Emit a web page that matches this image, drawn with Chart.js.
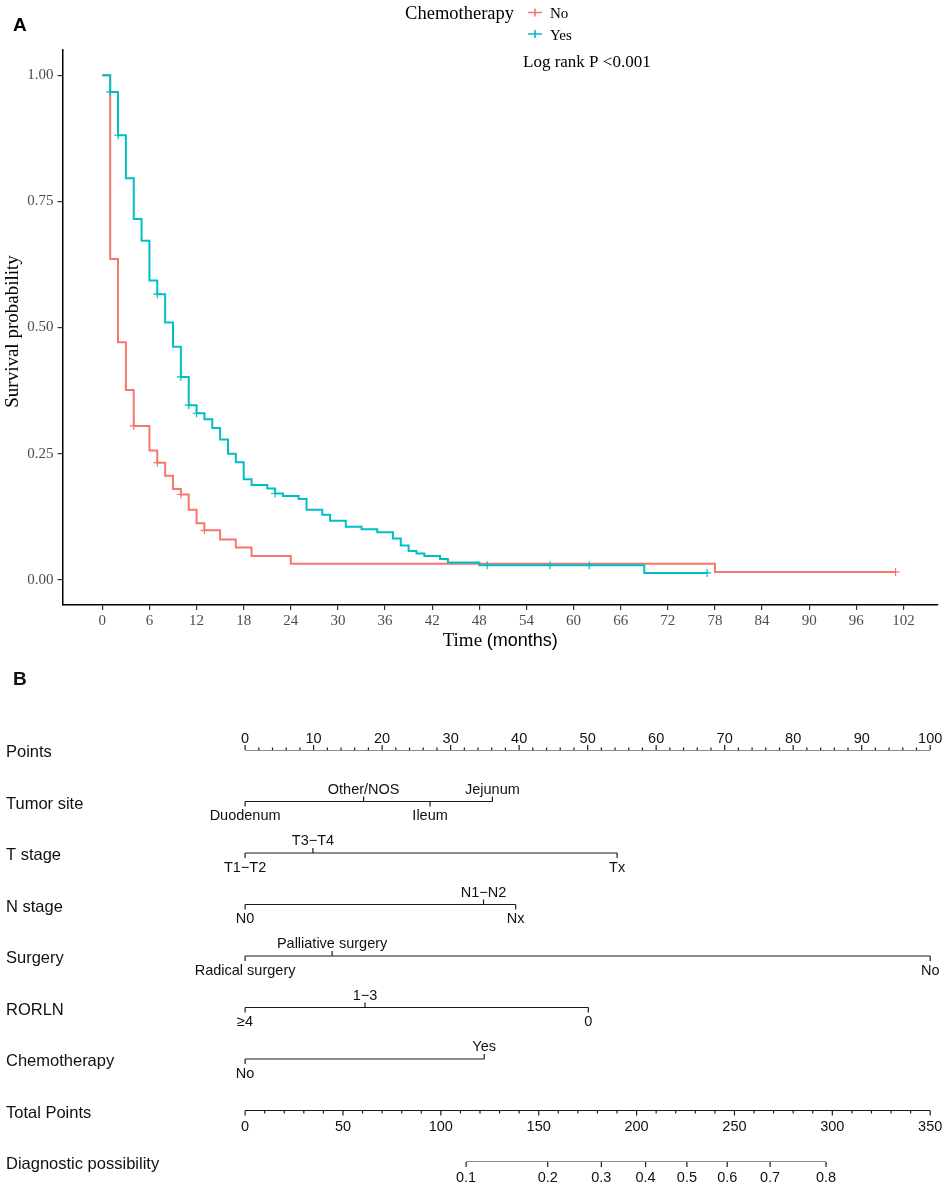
<!DOCTYPE html>
<html>
<head>
<meta charset="utf-8">
<title>Chemotherapy survival and nomogram</title>
<script src="https://cdn.jsdelivr.net/npm/chart.js@4.4.1/dist/chart.umd.min.js"></script>
<style>
    body { margin: 0; background: #fff; }
    #page { position: relative; width: 948px; height: 1183px; overflow: hidden; }
    canvas { position: absolute; left: 0; }
    #km { top: 0; }
    #nomo { top: 660px; }
</style>
</head>
<body>
<div id="page">
    <canvas id="km" width="948" height="660"></canvas>
    <canvas id="nomo" width="948" height="523"></canvas>
</div>
<script>
// ---- Panel A: Kaplan-Meier curves (months, survival probability) ----
const noTime = [0, 1, 2, 3, 4, 6, 7, 8, 9, 10, 11, 12, 13, 15, 17, 19, 24, 78, 101];
const noSurv = [1, 0.636, 0.471, 0.376, 0.305, 0.256, 0.232, 0.206, 0.180, 0.169, 0.139, 0.112, 0.098, 0.080, 0.064, 0.047, 0.032, 0.0155, 0.0155];
const yesTime = [0, 1, 2, 3, 4, 5, 6, 7, 8, 9, 10, 11, 12, 13, 14, 15, 16, 17, 18, 19, 21, 22, 23, 25, 26, 28, 29, 31, 33, 35, 37, 38, 39, 40, 41, 43, 44, 48, 69, 77];
const yesSurv = [1, 0.967, 0.881, 0.796, 0.715, 0.672, 0.593, 0.566, 0.510, 0.462, 0.402, 0.346, 0.330, 0.318, 0.301, 0.278, 0.250, 0.233, 0.199, 0.188, 0.181, 0.171, 0.166, 0.160, 0.139, 0.129, 0.117, 0.105, 0.100, 0.094, 0.082, 0.068, 0.057, 0.052, 0.047, 0.041, 0.034, 0.029, 0.0135, 0.0135];
const noCensor = [4, 7, 10, 13, 101];
const yesCensor = [1, 2, 7, 10, 11, 12, 22, 49, 57, 62, 77];
const timeTicks = [0, 6, 12, 18, 24, 30, 36, 42, 48, 54, 60, 66, 72, 78, 84, 90, 96, 102];
const survTicks = [0, 0.25, 0.5, 0.75, 1];

// ---- Panel B: nomogram (points for each level) ----
const rowNames = ['Points', 'Tumor site', 'T stage', 'N stage', 'Surgery', 'RORLN', 'Chemotherapy', 'Total Points', 'Diagnostic possibility'];
const tumorLevels = ['Duodenum', 'Other/NOS', 'Ileum', 'Jejunum'];
const tumorPoints = [0, 17.3, 27.0, 36.1];
const tStageLevels = ['T1\u2212T2', 'T3\u2212T4', 'Tx'];
const tStagePoints = [0, 9.9, 54.3];
const nStageLevels = ['N0', 'N1\u2212N2', 'Nx'];
const nStagePoints = [0, 34.8, 39.5];
const surgeryLevels = ['Radical surgery', 'Palliative surgery', 'No'];
const surgeryPoints = [0, 12.7, 100];
const rorlnLevels = ['\u22654', '1\u22123', '0'];
const rorlnPoints = [0, 17.5, 50.1];
const chemoLevels = ['No', 'Yes'];
const chemoPoints = [0, 34.9];
const pointTicks = [0, 10, 20, 30, 40, 50, 60, 70, 80, 90, 100];
const totalTicks = [0, 50, 100, 150, 200, 250, 300, 350];
const probLabels = ['0.1', '0.2', '0.3', '0.4', '0.5', '0.6', '0.7', '0.8'];
const probTotals = [112.9, 154.6, 182.0, 204.6, 225.7, 246.3, 268.2, 296.8];
const totalMax = 350;

const RED = '#F8766D';
const TEAL = '#00BFC4';
const SERIF = '"Liberation Serif", "Times New Roman", serif';
const SANS = '"Liberation Sans", Arial, sans-serif';

// Survival at time t from a step curve
function survAt(times, surv, t) {
    let s = surv[0];
    for (let i = 0; i < times.length; i++) {
        if (times[i] <= t) s = surv[i];
    }
    return s;
}

function toXY(xs, ys) {
    return xs.map((x, i) => ({ x: x, y: ys[i] }));
}

// Legend "+" key
function drawKey(ctx, x, y, color) {
    ctx.save();
    ctx.strokeStyle = color;
    ctx.lineWidth = 1.6;
    ctx.beginPath();
    ctx.moveTo(x - 7, y);
    ctx.lineTo(x + 7, y);
    ctx.moveTo(x, y - 4);
    ctx.lineTo(x, y + 4);
    ctx.stroke();
    ctx.restore();
}

const kmDecor = {
    id: 'kmDecor',
    afterDraw(chart) {
        const ctx = chart.ctx;
        const area = chart.chartArea;
        ctx.save();
        ctx.fillStyle = '#000';

        // panel letter
        ctx.font = 'bold 19px ' + SANS;
        ctx.textAlign = 'left';
        ctx.textBaseline = 'alphabetic';
        ctx.fillText('A', 13, 31);

        // legend
        ctx.font = '18.5px ' + SERIF;
        ctx.textAlign = 'right';
        ctx.fillText('Chemotherapy', 514, 19);
        drawKey(ctx, 535, 12.5, RED);
        drawKey(ctx, 535, 34, TEAL);
        ctx.font = '15px ' + SERIF;
        ctx.textAlign = 'left';
        ctx.fillText('No', 550, 18);
        ctx.fillText('Yes', 550, 40);

        ctx.font = '17px ' + SERIF;
        ctx.fillText('Log rank P <0.001', 523, 67);

        // y axis title
        ctx.save();
        ctx.translate(13, (area.top + area.bottom) / 2 + 4);
        ctx.rotate(-Math.PI / 2);
        ctx.font = '19px ' + SERIF;
        ctx.textAlign = 'center';
        ctx.textBaseline = 'middle';
        ctx.fillText('Survival probability', 0, 0);
        ctx.restore();

        // x axis title: "Time" serif, "(months)" sans
        const partA = 'Time ';
        const partB = '(months)';
        ctx.font = '19px ' + SERIF;
        const wA = ctx.measureText(partA).width;
        ctx.font = '18px ' + SANS;
        const wB = ctx.measureText(partB).width;
        const x0 = (area.left + area.right) / 2 - (wA + wB) / 2;
        ctx.textBaseline = 'alphabetic';
        ctx.font = '19px ' + SERIF;
        ctx.fillText(partA, x0, 646);
        ctx.font = '18px ' + SANS;
        ctx.fillText(partB, x0 + wA, 646);

        ctx.restore();
    }
};

function initializeKM() {
    const ctx = document.getElementById('km').getContext('2d');
    new Chart(ctx, {
        type: 'line',
        data: {
            datasets: [
                {
                    label: 'Yes',
                    data: toXY(yesTime, yesSurv),
                    borderColor: TEAL,
                    borderWidth: 2,
                    stepped: true,
                    pointRadius: 0,
                    fill: false,
                    order: 1
                },
                {
                    label: 'Yes censored',
                    data: yesCensor.map(t => ({ x: t, y: survAt(yesTime, yesSurv, t) })),
                    showLine: false,
                    pointStyle: 'cross',
                    pointRadius: 4,
                    pointBorderWidth: 1.2,
                    borderColor: TEAL,
                    order: 0
                },
                {
                    label: 'No',
                    data: toXY(noTime, noSurv),
                    borderColor: RED,
                    borderWidth: 2,
                    stepped: true,
                    pointRadius: 0,
                    fill: false,
                    order: 3
                },
                {
                    label: 'No censored',
                    data: noCensor.map(t => ({ x: t, y: survAt(noTime, noSurv, t) })),
                    showLine: false,
                    pointStyle: 'cross',
                    pointRadius: 4,
                    pointBorderWidth: 1.2,
                    borderColor: RED,
                    order: 2
                }
            ]
        },
        options: {
            responsive: false,
            animation: false,
            layout: {
                autoPadding: false,
                padding: { top: 50, right: 10, bottom: 0, left: 0 }
            },
            plugins: {
                legend: { display: false },
                tooltip: { enabled: false }
            },
            scales: {
                x: {
                    type: 'linear',
                    min: -5.07,
                    max: 106.4,
                    afterBuildTicks: scale => { scale.ticks = timeTicks.map(v => ({ value: v })); },
                    afterFit: scale => { scale.height = 55; },
                    border: { display: true, color: '#000', width: 1.5 },
                    grid: { display: true, drawOnChartArea: false, drawTicks: true, tickLength: 5, color: '#333', lineWidth: 1.2 },
                    ticks: {
                        autoSkip: false,
                        maxRotation: 0,
                        padding: 2,
                        color: '#4d4d4d',
                        font: { family: SERIF, size: 15 }
                    }
                },
                y: {
                    min: -0.05,
                    max: 1.05,
                    afterBuildTicks: scale => { scale.ticks = survTicks.map(v => ({ value: v })); },
                    afterFit: scale => { scale.width = 62.5; },
                    border: { display: true, color: '#000', width: 1.5 },
                    grid: { display: true, drawOnChartArea: false, drawTicks: true, tickLength: 5, color: '#333', lineWidth: 1.2 },
                    ticks: {
                        padding: 4,
                        color: '#4d4d4d',
                        font: { family: SERIF, size: 15 },
                        callback: value => value.toFixed(2)
                    }
                }
            }
        },
        plugins: [kmDecor]
    });
}

// ---- Nomogram ----
const levelRows = [
    [tumorLevels, tumorPoints],
    [tStageLevels, tStagePoints],
    [nStageLevels, nStagePoints],
    [surgeryLevels, surgeryPoints],
    [rorlnLevels, rorlnPoints],
    [chemoLevels, chemoPoints]
];

function totalToPoints(v) {
    return v * 100 / totalMax;
}

function tick(ctx, x, y, len) {
    ctx.beginPath();
    ctx.moveTo(x, y);
    ctx.lineTo(x, y + len);
    ctx.stroke();
}

const nomoDecor = {
    id: 'nomoDecor',
    afterDatasetsDraw(chart) {
        const ctx = chart.ctx;
        const xs = chart.scales.x;
        const ys = chart.scales.y;
        ctx.save();
        ctx.fillStyle = '#111';
        ctx.strokeStyle = '#1a1a1a';
        ctx.lineWidth = 1.2;

        ctx.font = 'bold 19px ' + SANS;
        ctx.textAlign = 'left';
        ctx.textBaseline = 'alphabetic';
        ctx.fillText('B', 13, 25);

        // row names
        ctx.font = '16.5px ' + SANS;
        rowNames.forEach((name, i) => {
            ctx.fillText(name, 6, ys.getPixelForValue(i) + 7);
        });

        ctx.font = '14.5px ' + SANS;
        ctx.textAlign = 'center';

        // Points scale
        let y = ys.getPixelForValue(0);
        for (let v = 0; v <= 100; v += 2) {
            tick(ctx, xs.getPixelForValue(v), y, v % 10 === 0 ? -5 : -2.5);
        }
        pointTicks.forEach(v => ctx.fillText(String(v), xs.getPixelForValue(v), y - 7.5));

        // variable rows: labels alternate below / above in order of points
        levelRows.forEach((row, r) => {
            const levels = row[0];
            const pts = row[1];
            y = ys.getPixelForValue(r + 1);
            const order = pts.map((p, i) => i).sort((a, b) => pts[a] - pts[b]);
            order.forEach((idx, k) => {
                const x = xs.getPixelForValue(pts[idx]);
                const below = k % 2 === 0;
                tick(ctx, x, y, below ? 5 : -5);
                ctx.fillText(levels[idx], x, below ? y + 18.5 : y - 7.8);
            });
        });

        // Total points scale
        y = ys.getPixelForValue(7);
        for (let v = 0; v <= totalMax; v += 10) {
            tick(ctx, xs.getPixelForValue(totalToPoints(v)), y, v % 50 === 0 ? 5 : 3);
        }
        totalTicks.forEach(v => ctx.fillText(String(v), xs.getPixelForValue(totalToPoints(v)), y + 20));

        // Diagnostic possibility scale
        y = ys.getPixelForValue(8);
        probTotals.forEach((v, i) => {
            const x = xs.getPixelForValue(totalToPoints(v));
            tick(ctx, x, y, 5);
            ctx.fillText(probLabels[i], x, y + 19.5);
        });

        ctx.restore();
    }
};

function initializeNomogram() {
    const ctx = document.getElementById('nomo').getContext('2d');
    const datasets = [];
    const lineStyle = { borderColor: '#1a1a1a', borderWidth: 1.2, pointRadius: 0, fill: false };

    datasets.push(Object.assign({ label: 'Points', data: [{ x: 0, y: 0 }, { x: 100, y: 0 }] }, lineStyle));
    levelRows.forEach((row, r) => {
        const pts = row[1];
        datasets.push(Object.assign({
            label: rowNames[r + 1],
            data: [{ x: Math.min(...pts), y: r + 1 }, { x: Math.max(...pts), y: r + 1 }]
        }, lineStyle));
    });
    datasets.push(Object.assign({ label: 'Total Points', data: [{ x: 0, y: 7 }, { x: 100, y: 7 }] }, lineStyle));
    datasets.push(Object.assign({
        label: 'Diagnostic possibility',
        data: [
            { x: totalToPoints(probTotals[0]), y: 8 },
            { x: totalToPoints(probTotals[probTotals.length - 1]), y: 8 }
        ]
    }, lineStyle));

    new Chart(ctx, {
        type: 'line',
        data: { datasets: datasets },
        options: {
            responsive: false,
            animation: false,
            layout: {
                autoPadding: false,
                padding: { top: 90, right: 17.8, bottom: 21, left: 245.1 }
            },
            plugins: {
                legend: { display: false },
                tooltip: { enabled: false }
            },
            scales: {
                x: { type: 'linear', min: 0, max: 100, display: false },
                y: { type: 'linear', min: 0, max: 8, reverse: true, display: false }
            }
        },
        plugins: [nomoDecor]
    });
}

document.addEventListener('DOMContentLoaded', () => {
    initializeKM();
    initializeNomogram();
});
</script>
</body>
</html>
